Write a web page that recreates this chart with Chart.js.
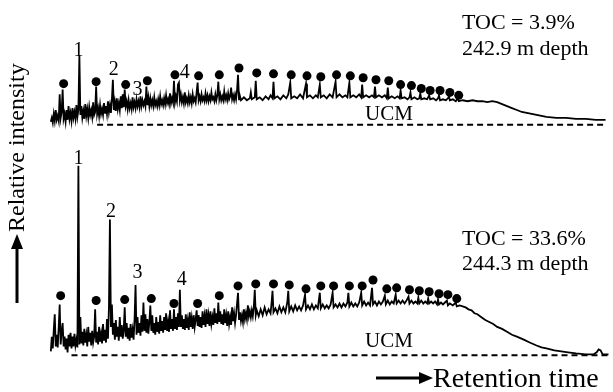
<!DOCTYPE html>
<html>
<head>
<meta charset="utf-8">
<script src="https://cdn.jsdelivr.net/npm/chart.js@4/dist/chart.umd.min.js"></script>
<style>
  html, body { margin: 0; padding: 0; background: #fff; }
  canvas { display: block; }
</style>
</head>
<body>
<canvas id="gc" width="613" height="392"></canvas>
<script>
// GC-FID traces of two samples: scan number vs. detector signal (arbitrary units)

// Upper sample (TOC 3.9 %, 242.9 m)
const upperScan = [
  7,8,9,10,11,12,13,14,15,16,17,18,19,20,21,22,23,24,25,26,27,28,29,30,31,32,33,34,35,36,37,38,39,40,
  41,42,43,44,45,46,47,48,49,50,51,52,53,54,55,56,57,58,59,60,61,62,63,64,65,66,67,68,69,70,71,72,73,74,
  75,76,77,78,79,80,81,82,83,84,85,86,87,88,89,90,91,92,93,94,95,96,97,98,99,100,101,102,103,104,105,106,
  107,108,109,110,111,112,113,114,115,116,117,118,119,120,121,122,123,124,125,126,127,128,129,130,131,132,
  133,134,135,136,137,138,139,140,141,142,143,144,145,146,147,148,149,150,151,152,153,154,155,156,157,158,
  159,160,161,162,163,164,165,166,167,168,169,170,171,172,173,174,175,176,177,178,179,180,181,182,183,184,
  185,186,187,188,189,190,191,192,193,194,195,196,197,198,199,200,
  203,206,209,210,211,214,215,216,219,222,225,228,230,232,233,234,237,240,243,246,248,250,251,254,257,260,
  263,266,267,270,273,276,278,280,281,284,287,290,293,296,297,300,303,306,308,310,311,314,317,320,322,323,
  324,327,330,333,335,336,337,340,343,346,348,349,350,353,356,359,361,362,363,366,369,371,372,373,376,379,
  381,382,383,386,389,391,392,395,398,400,401,402,405,408,410,411,412,415,418,420,421,425,430,435,440,445,
  450,455,460,465,470,475,480,485,490,500,510,520,530,540,550,560,570
];
const upperSignal = [
  3,7,2,11,4,15,5,9,4,31,7,13,36,6,11,3,15,5,19,6,12,4,17,7,13,6,20,8,15,71,10,19,7,14,
  6,21,9,16,7,18,10,15,8,23,10,13,39,11,17,9,20,11,16,10,22,12,19,11,24,13,20,12,26,46,15,23,14,27,
  16,22,15,29,17,31,18,36,19,24,16,25,17,22,16,28,18,23,17,26,19,24,18,29,19,25,20,24,19,39,20,28,
  19,27,20,25,19,28,20,24,19,26,20,29,21,25,20,27,21,30,22,26,21,32,22,27,23,45,
  23,29,24,41,43,25,31,23,28,22,33,23,27,22,30,23,28,22,31,24,27,23,33,43,25,29,
  24,31,25,28,24,32,25,30,24,29,25,33,26,28,24,31,25,30,44,26,31,25,29,25,34,26,
  30,25,32,26,29,38,26,30,25,31,26,35,51,26,29,25,
  28,25,27,33,26,28,45,26,28,25,29,26,30,27,44,27,29,26,30,27,31,43,27,29,27,31,
  27,42,28,30,27,30,28,41,28,30,27,31,28,44,28,31,28,30,28,43,28,30,28,31,28,41,
  28,30,28,30,28,39,28,30,28,30,27,38,27,29,27,29,27,35,27,28,26,28,33,26,28,26,
  27,32,26,27,26,30,26,27,25,27,30,25,26,25,27,29,25,26,24,27,24,25,24,25,24,24,
  23,24,23,21,19,17,15,13,12,10,8,7,7,6,6,5,5
];
// n-alkane markers above the upper trace
const upperAlkaneScan = [20,53,83,105,133,157,178,198,216,233,251,267,281,297,311,324,337,350,362,373,383,392,402,412,421];
const upperAlkaneSignal = [42,44,41,45,51,50,51,58,53,52,51,50,49,51,50,48,46,45,41,40,37,35,35,33,30];

// Lower sample (TOC 33.6 %, 244.3 m)
const lowerScan = [
  7,8,9,10,11,12,13,14,15,16,17,18,19,20,21,22,23,24,25,26,27,28,29,30,31,32,33,34,35,36,37,38,39,40,
  41,42,43,44,45,46,47,48,49,50,51,52,53,54,55,56,57,58,59,60,61,62,63,64,65,66,67,68,69,70,71,72,73,74,
  75,76,77,78,79,80,81,82,83,84,85,86,87,88,89,90,91,92,93,94,95,96,97,98,99,100,101,102,103,104,105,106,
  107,108,109,110,111,112,113,114,115,116,117,118,119,120,121,122,123,124,125,126,127,128,129,130,131,132,
  133,134,135,136,137,138,139,140,141,142,143,144,145,146,147,148,149,150,151,152,153,154,155,156,157,158,
  159,160,161,162,163,164,165,166,167,168,169,170,171,172,173,174,175,176,177,178,179,180,181,182,183,184,
  185,186,187,188,189,190,191,192,193,194,195,196,197,198,199,200,201,202,203,204,205,206,207,208,209,210,
  211,212,213,214,215,216,218,220,222,224,226,228,230,231,232,233,235,237,239,241,243,245,247,248,249,251,
  253,255,257,259,261,263,265,266,268,270,272,274,276,278,280,281,283,285,287,289,291,293,294,296,298,300,
  302,304,306,308,309,310,312,314,316,318,320,322,323,325,327,329,331,333,334,336,338,340,342,344,346,347,
  349,351,353,355,357,358,360,362,364,366,368,370,371,373,375,377,379,380,381,383,385,387,389,390,391,393,
  395,397,399,400,401,403,405,407,409,410,412,415,418,419,422,425,428,431,434,437,440,444,448,452,456,460,
  465,470,475,480,487,493,500,505,510,518,525,532,540,550,558,561,563,565,567,573
];
const lowerSignal = [
  4,19,7,26,42,9,21,8,29,52,11,24,33,9,19,6,17,3,21,9,23,7,19,9,22,10,16,8,194,11,39,12,24,10,
  27,13,21,9,29,14,23,10,25,13,19,47,13,24,11,29,14,22,12,32,15,26,13,37,17,49,139,29,52,21,33,16,36,19,
  29,15,39,19,31,17,26,49,19,33,17,28,15,32,18,26,16,37,72,21,39,23,33,20,41,24,54,25,42,23,37,22,
  34,51,25,41,23,33,21,39,24,34,22,41,25,35,23,39,26,43,25,34,24,46,27,37,25,47,
  27,39,26,43,29,67,29,41,27,37,26,42,28,36,26,44,29,38,27,41,29,37,46,30,41,29,
  39,28,45,31,40,29,47,32,41,30,45,32,39,31,48,33,43,32,54,34,45,32,42,31,47,33,
  41,30,45,32,39,31,49,35,43,33,41,53,64,37,44,35,41,34,47,37,43,37,51,40,45,39,
  46,40,49,67,41,46,40,47,41,49,42,47,43,53,66,44,48,43,50,44,49,44,54,66,45,50,
  45,51,46,50,46,51,62,47,51,47,52,47,51,48,64,48,52,48,51,48,52,64,49,52,49,53,
  49,53,50,54,64,50,54,50,53,50,54,64,51,55,51,54,51,69,52,55,51,55,52,55,61,52,
  56,52,55,53,62,53,56,53,56,53,56,60,53,56,53,55,53,59,53,56,53,55,53,58,53,55,
  53,55,52,57,52,54,52,54,56,51,53,51,54,50,51,50,49,47,46,43,42,39,36,34,32,29,
  27,24,21,19,16,13,10,8,7,5,4,3,2,1,1,3,6,5,1,1
];
// n-alkane markers above the lower trace
const lowerAlkaneScan = [17,53,82,109,132,156,178,197,215,233,249,266,281,294,310,323,334,348,358,371,381,391,401,410,419];
const lowerAlkaneSignal = [61,56,57,58,53,53,61,71,73,73,72,68,71,71,71,71,77,68,69,67,66,65,63,62,58];

// Numbered compound labels (scan position, signal at label baseline)
const peakNames = ['1', '2', '3', '4'];
const upperLabelScan = [35, 71, 95, 143];
const upperLabelSignal = [70, 51, 30, 48];
const lowerLabelScan = [35, 68, 95, 140];
const lowerLabelSignal = [196, 142, 79, 72];

// Zero-signal reference lines (start and end scan)
const upperZeroRange = [54, 568];
const lowerZeroRange = [28, 572];

const toPoints = (xs, ys) => xs.map((x, i) => ({ x, y: ys[i] }));

const SERIF = '"Liberation Serif", "Times New Roman", serif';

const textLayer = {
  id: 'textLayer',
  afterDatasetsDraw(chart) {
    const { ctx, scales } = chart;
    const xs = scales.x, yu = scales.yUpper, yl = scales.yLower;
    ctx.save();
    ctx.fillStyle = '#000';
    ctx.strokeStyle = '#000';
    ctx.textBaseline = 'alphabetic';

    // compound numbers
    ctx.font = '20px ' + SERIF;
    ctx.textAlign = 'center';
    peakNames.forEach((t, i) => {
      ctx.fillText(t, xs.getPixelForValue(upperLabelScan[i]), yu.getPixelForValue(upperLabelSignal[i]));
      ctx.fillText(t, xs.getPixelForValue(lowerLabelScan[i]), yl.getPixelForValue(lowerLabelSignal[i]));
    });

    // hump labels
    ctx.font = '21px ' + SERIF;
    ctx.fillText('UCM', 389, 120);
    ctx.fillText('UCM', 389, 347);

    // sample annotations
    ctx.font = '22px ' + SERIF;
    ctx.textAlign = 'left';
    ctx.fillText('TOC = 3.9%', 462, 29);
    ctx.fillText('242.9 m depth', 462, 55);
    ctx.fillText('TOC = 33.6%', 462, 245);
    ctx.fillText('244.3 m depth', 462, 270);

    // retention-time axis arrow
    ctx.lineWidth = 3;
    ctx.beginPath();
    ctx.moveTo(376, 378);
    ctx.lineTo(422, 378);
    ctx.stroke();
    ctx.beginPath();
    ctx.moveTo(419, 372);
    ctx.lineTo(433, 378);
    ctx.lineTo(419, 384);
    ctx.closePath();
    ctx.fill();
    ctx.font = '28px ' + SERIF;
    ctx.fillText('Retention time', 433, 387);

    // intensity axis arrow
    ctx.beginPath();
    ctx.moveTo(17, 303);
    ctx.lineTo(17, 246);
    ctx.stroke();
    ctx.beginPath();
    ctx.moveTo(11, 249);
    ctx.lineTo(17, 234);
    ctx.lineTo(23, 249);
    ctx.closePath();
    ctx.fill();

    ctx.translate(24, 232);
    ctx.rotate(-Math.PI / 2);
    ctx.font = '24px ' + SERIF;
    ctx.textAlign = 'left';
    ctx.fillText('Relative intensity', 0, 0);
    ctx.restore();
  }
};

const traceStyle = {
  borderColor: '#000', borderWidth: 1.8, pointRadius: 0, tension: 0,
  fill: false, clip: false, borderJoinStyle: 'miter'
};
const zeroStyle = {
  borderColor: '#000', borderWidth: 2, borderDash: [6, 4], pointRadius: 0,
  fill: false, clip: false
};
const markerStyle = {
  showLine: false, pointRadius: 4.5, pointBackgroundColor: '#000',
  pointBorderWidth: 0, borderColor: '#000', clip: false
};

new Chart(document.getElementById('gc'), {
  type: 'line',
  data: {
    datasets: [
      Object.assign({ data: toPoints(upperScan, upperSignal), yAxisID: 'yUpper' }, traceStyle),
      Object.assign({ data: toPoints(upperAlkaneScan, upperAlkaneSignal), yAxisID: 'yUpper' }, markerStyle),
      Object.assign({ data: upperZeroRange.map(x => ({ x, y: 0 })), yAxisID: 'yUpper' }, zeroStyle),
      Object.assign({ data: toPoints(lowerScan, lowerSignal), yAxisID: 'yLower' }, traceStyle),
      Object.assign({ data: toPoints(lowerAlkaneScan, lowerAlkaneSignal), yAxisID: 'yLower' }, markerStyle),
      Object.assign({ data: lowerZeroRange.map(x => ({ x, y: 0 })), yAxisID: 'yLower' }, zeroStyle)
    ]
  },
  options: {
    responsive: false,
    animation: false,
    devicePixelRatio: 1,
    layout: { padding: 0 },
    plugins: { legend: { display: false }, tooltip: { enabled: false } },
    scales: {
      x: { type: 'linear', display: false, min: -40, max: 573 },
      yUpper: { type: 'linear', display: false, min: -269, max: 123 },
      yLower: { type: 'linear', display: false, min: -33, max: 359 }
    }
  },
  plugins: [textLayer]
});
</script>
</body>
</html>
